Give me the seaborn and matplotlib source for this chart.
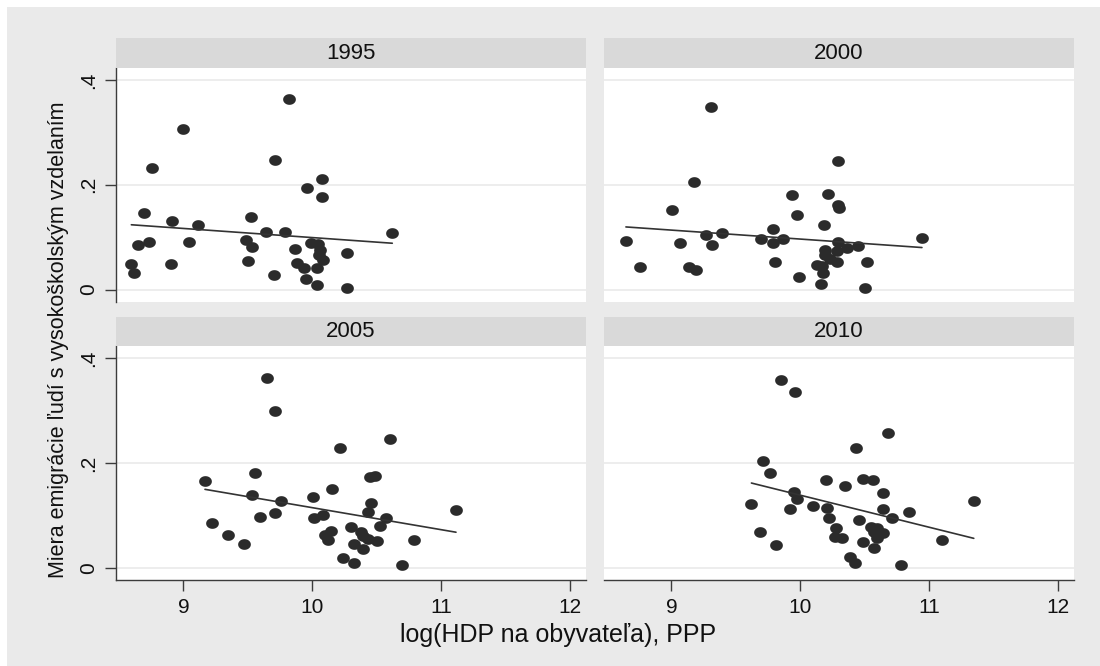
import numpy as np
import pandas as pd
import matplotlib
matplotlib.use("Agg")
import matplotlib.pyplot as plt
from matplotlib.patches import Rectangle
from matplotlib.path import Path
from matplotlib import font_manager
import seaborn as sns

# log GDP per capita (PPP) and emigration rate of the highly educated, by year
gdp_1995 = [9.82, 9.00, 8.757, 9.713, 10.075, 9.956, 10.075, 8.695, 8.912, 9.117,
            9.525, 9.639, 9.788, 10.62, 8.649, 8.734, 9.044, 9.486, 9.532, 9.868,
            9.992, 10.044, 10.06, 10.054, 10.085, 10.271, 8.597, 8.618, 8.902, 9.499,
            9.881, 9.936, 10.034, 9.706, 9.951, 10.039, 10.267]
emig_1995 = [0.364, 0.306, 0.232, 0.248, 0.211, 0.193, 0.177, 0.147, 0.131, 0.123,
             0.138, 0.110, 0.110, 0.107, 0.085, 0.091, 0.091, 0.094, 0.081, 0.078,
             0.088, 0.087, 0.075, 0.066, 0.056, 0.069, 0.048, 0.031, 0.048, 0.054,
             0.051, 0.041, 0.042, 0.027, 0.020, 0.009, 0.0025]

gdp_2000 = [9.308, 10.294, 9.178, 9.937, 10.216, 10.294, 10.30, 9.008, 9.973, 10.182,
            9.786, 9.266, 9.396, 10.943, 8.648, 9.07, 9.318, 9.699, 9.792, 9.864,
            10.291, 10.19, 10.281, 10.359, 10.449, 10.19, 10.229, 10.286, 10.514, 8.754,
            9.134, 9.194, 9.802, 10.126, 10.169, 10.177, 9.988, 10.162, 10.503]
emig_2000 = [0.349, 0.246, 0.205, 0.180, 0.183, 0.161, 0.156, 0.152, 0.143, 0.124,
             0.115, 0.104, 0.108, 0.098, 0.092, 0.088, 0.085, 0.096, 0.088, 0.096,
             0.091, 0.075, 0.073, 0.080, 0.083, 0.066, 0.058, 0.053, 0.053, 0.043,
             0.043, 0.038, 0.053, 0.046, 0.045, 0.032, 0.023, 0.010, 0.003]

gdp_2005 = [9.651, 9.713, 10.605, 10.215, 9.168, 9.556, 10.448, 10.488, 10.152, 9.533,
            9.76, 10.003, 10.455, 11.114, 10.434, 9.711, 9.595, 10.013, 10.08, 10.574,
            10.527, 9.225, 9.349, 9.468, 10.145, 10.098, 10.122, 10.297, 10.375, 10.395,
            10.434, 10.499, 10.323, 10.393, 10.786, 10.238, 10.325, 10.698]
emig_2005 = [0.362, 0.299, 0.246, 0.229, 0.167, 0.182, 0.173, 0.176, 0.151, 0.139,
             0.127, 0.136, 0.124, 0.110, 0.107, 0.105, 0.097, 0.095, 0.101, 0.095,
             0.080, 0.086, 0.062, 0.046, 0.071, 0.062, 0.053, 0.078, 0.069, 0.061,
             0.055, 0.052, 0.046, 0.036, 0.054, 0.019, 0.010, 0.005]

gdp_2010 = [9.849, 9.961, 10.677, 10.429, 9.714, 9.766, 10.203, 10.485, 10.563, 10.348,
            9.95, 10.643, 9.978, 9.621, 11.345, 9.917, 10.102, 10.208, 10.638, 10.845,
            10.224, 10.452, 10.708, 9.688, 9.813, 10.276, 10.268, 10.324, 10.547, 10.592,
            10.573, 10.638, 10.594, 10.485, 10.573, 11.098, 10.382, 10.426, 10.783]
emig_2010 = [0.358, 0.336, 0.258, 0.230, 0.205, 0.181, 0.168, 0.169, 0.168, 0.156,
             0.146, 0.144, 0.132, 0.123, 0.127, 0.113, 0.118, 0.115, 0.113, 0.107,
             0.096, 0.092, 0.096, 0.068, 0.044, 0.076, 0.059, 0.057, 0.079, 0.077,
             0.068, 0.066, 0.058, 0.050, 0.038, 0.054, 0.020, 0.010, 0.006]

years = ["1995", "2000", "2005", "2010"]
x_ticks = [9, 10, 11, 12]
y_ticks = [0, 0.2, 0.4]
y_tick_labels = ["0", ".2", ".4"]

x_title = "log(HDP na obyvateľa), PPP"
y_title = "Miera emigrácie ľudí s vysokoškolským vzdelaním"

series = {"1995": (gdp_1995, emig_1995), "2000": (gdp_2000, emig_2000),
          "2005": (gdp_2005, emig_2005), "2010": (gdp_2010, emig_2010)}
df = pd.concat([pd.DataFrame({"gdp": g, "emig": e, "year": y})
                for y, (g, e) in series.items()], ignore_index=True)

sns.set_theme(style="white")
plt.rcParams["font.family"] = ["Liberation Sans", "DejaVu Sans"]

# condensed face for the long vertical title, if available
installed = {f.name for f in font_manager.fontManager.ttflist}
if "Liberation Sans Narrow" in installed:
    ytitle_family, ytitle_size = ["Liberation Sans Narrow", "DejaVu Sans"], 19
else:
    ytitle_family, ytitle_size = ["Liberation Sans", "DejaVu Sans"], 15.5

BG = "#eaeaea"
STRIP = "#d9d9d9"
INK = "#2b2b2b"
AXIS = "#3c3c3c"

# slightly flattened round marker
t = np.linspace(0, 2 * np.pi, 60)
ellipse = Path(np.column_stack([np.cos(t), 0.84 * np.sin(t)]), closed=True)

g = sns.FacetGrid(df, col="year", col_order=years, col_wrap=2,
                  sharex=True, sharey=True, height=3, aspect=1.6,
                  despine=False)
g.map_dataframe(sns.scatterplot, x="gdp", y="emig", color=INK, s=84,
                marker=ellipse, linewidth=0, zorder=3)
g.map_dataframe(sns.regplot, x="gdp", y="emig", scatter=False, ci=None,
                truncate=True, color="#333333", line_kws={"linewidth": 1.2, "zorder": 4})

fig = g.figure
fig.set_size_inches(11, 6.66)
fig.set_dpi(100)
fig.patch.set_facecolor("white")
fig.add_artist(Rectangle((7 / 1100, 0), 1, 1 - 7 / 666, transform=fig.transFigure,
                         facecolor=BG, edgecolor="none", zorder=-10))

fig.subplots_adjust(left=116 / 1100, right=1074 / 1100, top=1 - 68 / 666,
                    bottom=1 - 580 / 666, wspace=18 / 470, hspace=45 / 234)

axes = g.axes.flatten()
for i, (ax, yr) in enumerate(zip(axes, years)):
    ax.set_facecolor("white")
    ax.set_xlim(8.478, 12.122)
    ax.set_ylim(-0.023, 0.423)
    ax.set_title("")
    ax.set_xlabel("")
    ax.set_ylabel("")
    for y in y_ticks:
        ax.axhline(y, color=BG, linewidth=1.2, zorder=1)
    for s in ["top", "right", "left", "bottom"]:
        ax.spines[s].set_visible(False)
    left_col = i % 2 == 0
    bottom_row = i >= 2
    ax.set_xticks(x_ticks)
    ax.set_yticks(y_ticks)
    ax.set_yticklabels(y_tick_labels)
    if left_col:
        ax.spines["left"].set_visible(True)
        ax.spines["left"].set_color(AXIS)
        ax.spines["left"].set_linewidth(1.0)
        ax.tick_params(axis="y", left=True, labelleft=True, length=8, width=1.0,
                       color=AXIS, pad=5, labelsize=15, labelcolor="#111111",
                       labelrotation=90)
        for lab in ax.get_yticklabels():
            lab.set_va("center")
    else:
        ax.tick_params(axis="y", left=False, labelleft=False)
    if bottom_row:
        ax.spines["bottom"].set_visible(True)
        ax.spines["bottom"].set_color(AXIS)
        ax.spines["bottom"].set_linewidth(1.0)
        ax.tick_params(axis="x", bottom=True, labelbottom=True, length=8, width=1.0,
                       color=AXIS, pad=5, labelsize=15, labelcolor="#111111")
    else:
        ax.tick_params(axis="x", bottom=False, labelbottom=False)
    # panel header strip
    h = 30 / 234
    ax.add_patch(Rectangle((0, 1), 1, h, transform=ax.transAxes, clip_on=False,
                           facecolor=STRIP, edgecolor="none", zorder=5))
    ax.text(0.5, 1 + h / 2, yr, transform=ax.transAxes, ha="center", va="center",
            fontsize=16, color="#111111", zorder=6)

fig.text(558 / 1100, 1 - 635 / 666, x_title, ha="center", va="center",
         fontsize=18, color="#111111")
fig.text(59 / 1100, 1 - 340 / 666, y_title, ha="center", va="center",
         rotation=90, fontsize=ytitle_size, family=ytitle_family, color="#111111")

fig.savefig("out.png", dpi=100, facecolor=fig.get_facecolor())
